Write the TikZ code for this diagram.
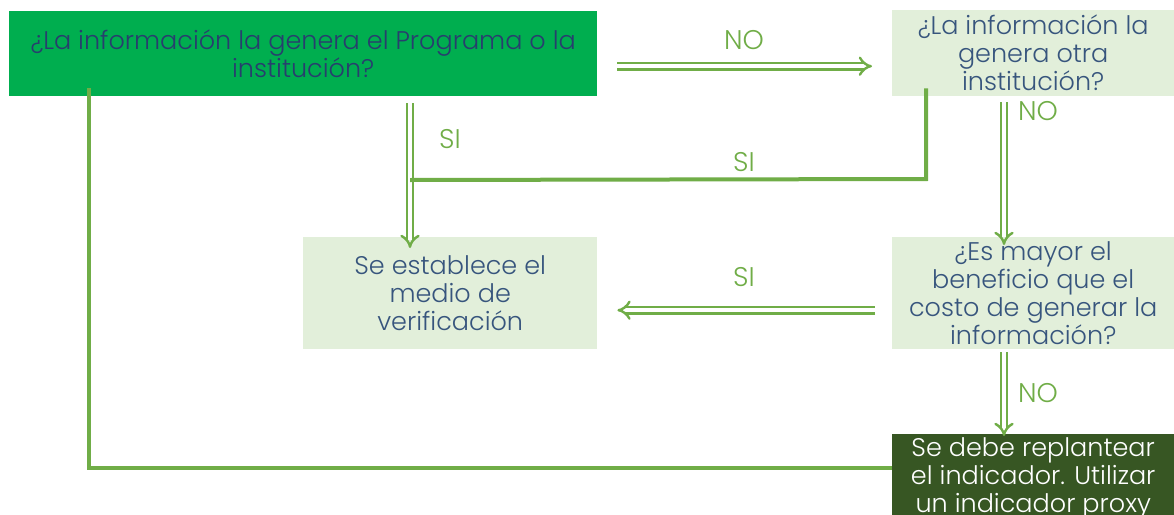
\documentclass[tikz,border=0pt]{standalone}
\usepackage{fontspec}
\setmainfont{Poppins Light}
\usetikzlibrary{arrows.meta,calc}
\definecolor{agreen}{RGB}{0,174,79}
\definecolor{lgreen}{RGB}{226,239,218}
\definecolor{dgreen}{RGB}{55,86,35}
\definecolor{conn}{RGB}{112,173,71}
\definecolor{tblue}{RGB}{55,85,125}
\definecolor{tnavy}{RGB}{40,62,110}
\tikzset{
  box/.style={inner sep=0pt, align=center, anchor=north west, font=\fontsize{25.5}{28}\selectfont},
  hollow/.style={draw=conn, line width=2.4pt, double=white, double distance=4pt, -{Implies}},
  line/.style={draw=conn, line width=4pt},
  lab/.style={text=conn, font=\fontsize{27}{28}\selectfont, inner sep=0pt}
}
\begin{document}
\begin{tikzpicture}[x=1pt,y=-1pt]
\clip (0,0) rectangle (1174,514);
\fill[white] (0,0) rectangle (1174,514);
\node[box, fill=agreen, text=tnavy, minimum width=588pt, minimum height=85pt] (a) at (9,11) {¿La información la genera el Programa o la\\institución?};
\node[box, fill=lgreen, text=tblue, minimum width=282pt, minimum height=86pt] (b) at (892,10) {¿La información la\\genera otra\\institución?};
\node[box, fill=lgreen, text=tblue, minimum width=294pt, minimum height=112pt] (c) at (303,237) {Se establece el\\medio de\\verificación};
\node[box, fill=lgreen, text=tblue, minimum width=282pt, minimum height=112pt] (d) at (892,237) {¿Es mayor el\\beneficio que el\\costo de generar la\\información?};
\node[box, fill=dgreen, text=white, minimum width=282pt, minimum height=88pt] (e) at (892,434) {Se debe replantear\\el indicador. Utilizar\\un indicador proxy};
\coordinate (xa) at (410,0);
\coordinate (xb) at (926,0);
\coordinate (xd) at (1004,0);
\coordinate (xl) at (89,0);
% a -> b
\draw[hollow, shorten <=20pt, shorten >=20pt] ([yshift=-12.5pt]a.east) -- ([yshift=-12.5pt]a.east -| b.west);
\node[lab] at (744,40) {NO};
% a -> c
\draw[hollow, shorten <=7pt, shorten >=-11pt] (a.south -| xa) -- (c.north -| xa);
\node[lab] at (450,139) {SI};
% b -> junction
\draw[line] ([yshift=8pt]b.south -| xb) -- (926,179) -- (410,180);
\node[lab] at (744,162) {SI};
% b -> d
\draw[hollow, shorten <=6pt, shorten >=-8pt] (b.south -| xd) -- (d.north -| xd);
\node[lab] at (1038,111) {NO};
% d -> c
\draw[hollow, shorten <=17pt, shorten >=20pt] ([yshift=-17pt]d.west) -- ([yshift=-17pt]d.west -| c.east);
\node[lab] at (744,277) {SI};
% d -> e
\draw[hollow, shorten <=3pt, shorten >=-2pt] (d.south -| xd) -- (e.north -| xd);
\node[lab] at (1038,393) {NO};
% e -> a
\draw[line] ([yshift=10pt]e.west) -| ([yshift=8pt]a.south -| xl);
\end{tikzpicture}
\end{document}
